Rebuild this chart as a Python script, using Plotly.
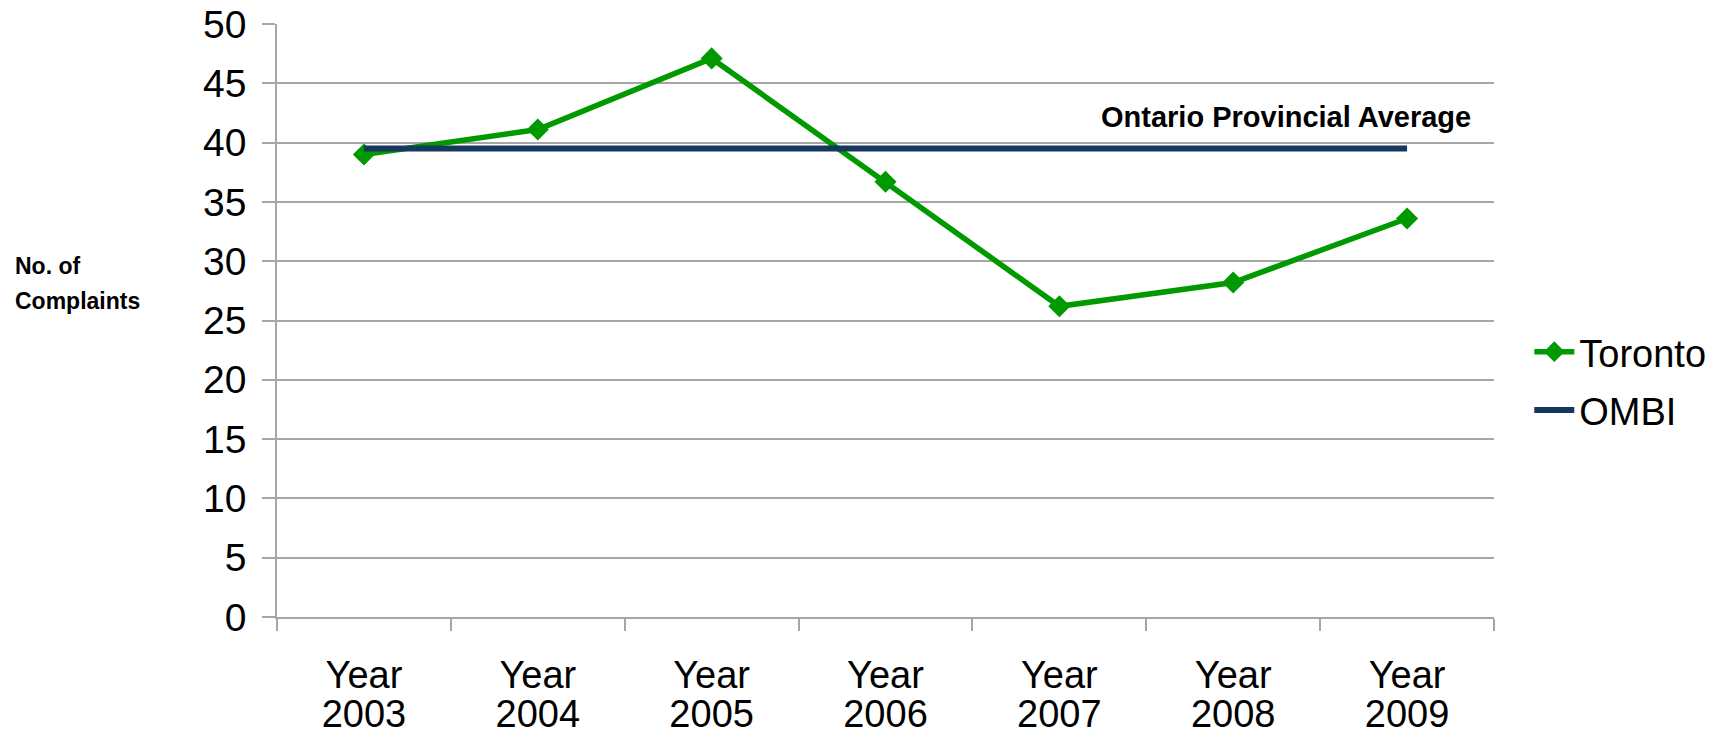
import plotly.graph_objects as go

years = ["2003", "2004", "2005", "2006", "2007", "2008", "2009"]
year_word = ["Year"] * len(years)
toronto = [39.0, 41.1, 47.1, 36.7, 26.2, 28.2, 33.6]
ombi = [39.5, 39.5, 39.5, 39.5, 39.5, 39.5, 39.5]
y_ticks = [0, 5, 10, 15, 20, 25, 30, 35, 40, 45, 50]

FONT = "Liberation Sans, Arial, sans-serif"
GRID = "#A6A6A6"

fig = go.Figure()
fig.add_trace(go.Scatter(
    x=years, y=toronto, name="Toronto", mode="lines+markers",
    line=dict(color="#009900", width=5.5),
    marker=dict(symbol="diamond", size=17, color="#009900"),
    legendgroup="a",
))
fig.add_trace(go.Scatter(
    x=years, y=ombi, name="OMBI", mode="lines",
    line=dict(color="#17375E", width=6),
    legendgroup="b",
))
# empty carrier trace so the second (year-number) label axis is drawn
fig.add_trace(go.Scatter(
    x=years, y=[None] * len(years), xaxis="x2", yaxis="y",
    mode="lines", showlegend=False, hoverinfo="skip",
))

fig.add_annotation(
    text="Ontario Provincial Average", xref="paper", yref="y",
    x=0.829, y=42.15, xanchor="center", yanchor="middle", showarrow=False,
    font=dict(family=FONT, size=29, color="black", weight="bold"),
)
fig.add_annotation(
    text="No. of", xref="paper", yref="paper",
    x=-0.2169, y=(617 - 266) / 593, xanchor="left", yanchor="middle", align="left",
    showarrow=False,
    font=dict(family=FONT, size=23, color="black", weight="bold"),
)
fig.add_annotation(
    text="Complaints", xref="paper", yref="paper",
    x=-0.2169, y=(617 - 301) / 593, xanchor="left", yanchor="middle", align="left",
    showarrow=False,
    font=dict(family=FONT, size=23, color="black", weight="bold"),
)

fig.update_layout(
    width=1736, height=739,
    margin=dict(l=277, r=242, t=24, b=122, autoexpand=False),
    paper_bgcolor="white", plot_bgcolor="white",
    font=dict(family=FONT, size=38, color="black"),
    showlegend=True,
    legend=dict(x=1.029, y=0.398, xanchor="left", yanchor="middle",
                font=dict(family=FONT, size=38, color="black"),
                tracegroupgap=6, itemwidth=40, bgcolor="rgba(0,0,0,0)"),
)
common_x = dict(
    type="category", categoryorder="array", categoryarray=years,
    tickvals=years, automargin=False,
    range=[-0.5, 6.5], tickson="boundaries", ticks="outside", ticklen=12,
    tickcolor=GRID, tickwidth=1.5, showgrid=False,
    showline=True, linecolor=GRID, linewidth=1.5,
    tickfont=dict(family=FONT, size=38, color="black"),
)
fig.update_layout(
    xaxis=dict(**common_x, ticktext=year_word, ticklabelstandoff=24),
    xaxis2=dict(**common_x, ticktext=years, ticklabelstandoff=63,
                overlaying="x", anchor="y", side="bottom"),
)
fig.update_yaxes(
    range=[0, 50], tickvals=y_ticks, showgrid=True, gridcolor=GRID, gridwidth=1.5,
    ticks="outside", ticklen=13, tickcolor=GRID, tickwidth=1.5, automargin=False,
    showline=True, linecolor=GRID, linewidth=1.5, zeroline=False,
    tickfont=dict(family=FONT, size=39, color="black"),
    ticklabelstandoff=8,
)

fig.write_html("out.html")
